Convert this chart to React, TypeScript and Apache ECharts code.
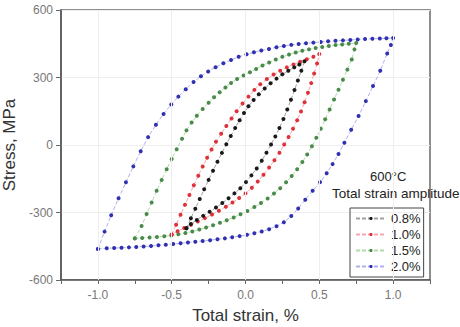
import React, { useEffect, useRef } from "react";
import * as echarts from "echarts";

// Hysteresis loops: [total strain %, stress MPa], in loop order
const loop08: number[][] = [
  [-0.40, -370], [-0.37, -326], [-0.34, -283], [-0.31, -240], [-0.28, -197], [-0.25, -155], [-0.22, -114],
  [-0.19, -74], [-0.16, -35], [-0.13, 3], [-0.10, 40], [-0.07, 76], [-0.04, 110], [-0.01, 142], [0.02, 172],
  [0.055, 200], [0.09, 226], [0.13, 251], [0.17, 274], [0.21, 295], [0.25, 314], [0.29, 330], [0.33, 345],
  [0.365, 358], [0.40, 372],
  [0.378, 330], [0.355, 287], [0.332, 244], [0.308, 201], [0.283, 158], [0.257, 116], [0.23, 76], [0.202, 38],
  [0.173, 2], [0.142, -34], [0.11, -70], [0.076, -104], [0.04, -135], [0.003, -165], [-0.035, -192],
  [-0.075, -215], [-0.115, -237], [-0.157, -258], [-0.2, -278], [-0.243, -297], [-0.287, -315], [-0.33, -333],
  [-0.37, -351], [-0.40, -370],
];

const loop10: number[][] = [
  [-0.50, -398], [-0.47, -354], [-0.44, -310], [-0.41, -266], [-0.38, -222], [-0.35, -179], [-0.32, -137],
  [-0.29, -96], [-0.26, -57], [-0.23, -20], [-0.20, 14], [-0.165, 50], [-0.13, 84], [-0.095, 118], [-0.06, 150],
  [-0.02, 184], [0.02, 215], [0.06, 245], [0.10, 270], [0.145, 293], [0.19, 313], [0.235, 330], [0.28, 345],
  [0.325, 358], [0.37, 370], [0.415, 381], [0.46, 392], [0.50, 404],
  [0.485, 362], [0.465, 318], [0.445, 275], [0.423, 232], [0.40, 190], [0.376, 149], [0.35, 110], [0.322, 72],
  [0.292, 36], [0.262, 2], [0.23, -34], [0.196, -68], [0.16, -100], [0.122, -132], [0.083, -162], [0.043, -190],
  [0.0, -215], [-0.043, -236], [-0.088, -256], [-0.133, -274], [-0.18, -292], [-0.227, -309], [-0.275, -325],
  [-0.323, -340], [-0.37, -355], [-0.415, -369], [-0.46, -383], [-0.50, -398],
];

const loop15: number[][] = [
  [-0.75, -415], [-0.704, -360], [-0.67, -307], [-0.636, -256], [-0.602, -203], [-0.568, -156], [-0.534, -108],
  [-0.50, -62], [-0.466, -19], [-0.43, 28], [-0.40, 65], [-0.365, 100], [-0.33, 130], [-0.29, 160], [-0.25, 188],
  [-0.213, 212], [-0.175, 234], [-0.136, 256], [-0.098, 276], [-0.057, 293], [-0.013, 309], [0.03, 323],
  [0.072, 338], [0.115, 353], [0.16, 367], [0.205, 380], [0.25, 392], [0.295, 402], [0.34, 411], [0.385, 419],
  [0.43, 425], [0.475, 431], [0.52, 436], [0.565, 440], [0.61, 444], [0.655, 447], [0.70, 450], [0.75, 453],
  [0.738, 425], [0.72, 380], [0.69, 335], [0.66, 290], [0.63, 246], [0.60, 202], [0.57, 158], [0.54, 114],
  [0.51, 72], [0.48, 32], [0.45, -6], [0.418, -42], [0.385, -76], [0.35, -108], [0.313, -138], [0.275, -166],
  [0.235, -192], [0.193, -216], [0.15, -238], [0.105, -258], [0.06, -276], [0.013, -293], [-0.034, -308],
  [-0.08, -322], [-0.127, -334], [-0.173, -346], [-0.22, -357], [-0.267, -367], [-0.313, -376], [-0.36, -384],
  [-0.407, -391], [-0.455, -397], [-0.503, -402], [-0.55, -406], [-0.60, -409], [-0.65, -411], [-0.70, -413],
  [-0.75, -415],
];

const loop20: number[][] = [
  [-1.0, -462], [-0.955, -385], [-0.91, -312], [-0.86, -237], [-0.81, -166], [-0.76, -95], [-0.71, -28],
  [-0.66, 35], [-0.607, 90], [-0.555, 138], [-0.503, 180], [-0.455, 215], [-0.405, 248], [-0.352, 280],
  [-0.302, 306], [-0.253, 327], [-0.203, 346], [-0.15, 363], [-0.098, 378], [-0.046, 392], [0.007, 403],
  [0.057, 412], [0.107, 420], [0.159, 427], [0.21, 434], [0.26, 440], [0.31, 445], [0.36, 449], [0.41, 452],
  [0.46, 455], [0.51, 458], [0.56, 461], [0.61, 463], [0.66, 465], [0.71, 467], [0.76, 469], [0.81, 471],
  [0.86, 472], [0.91, 473], [0.955, 474], [1.0, 476],
  [0.985, 444], [0.96, 407], [0.913, 330], [0.864, 262], [0.815, 195], [0.766, 129], [0.716, 68], [0.67, 10],
  [0.63, -40], [0.59, -85], [0.55, -126], [0.505, -165], [0.455, -203], [0.405, -243], [0.357, -282],
  [0.31, -316], [0.26, -343], [0.21, -361], [0.16, -374], [0.11, -384], [0.06, -392], [0.01, -399],
  [-0.04, -405], [-0.09, -410], [-0.14, -415], [-0.19, -419], [-0.24, -423], [-0.29, -427], [-0.34, -430],
  [-0.39, -433], [-0.44, -437], [-0.49, -440], [-0.54, -443], [-0.59, -446], [-0.64, -449], [-0.69, -451],
  [-0.74, -453], [-0.79, -455], [-0.84, -457], [-0.89, -458], [-0.94, -459], [-1.0, -462],
];

const seriesNames = ["0.8%", "1.0%", "1.5%", "2.0%"];
const markerColors = ["#1a1a1a", "#e0303a", "#4a8a4a", "#3030b0"];
const lineColors = ["#a0a0a0", "#f4a8ae", "#b0dca8", "#b0b0f0"];
const xGridValues = [-1.0, -0.5, 0.0, 0.5, 1.0];
const xTickLabels = ["-1.0", "-0.5", "0.0", "0.5", "1.0"];

export default function App() {
  const ref = useRef<HTMLDivElement>(null);
  useEffect(() => {
    if (!ref.current) return;
    const chart = echarts.init(ref.current, undefined, { renderer: "svg" });
    const loops = [loop08, loop10, loop15, loop20];
    const font = "'Liberation Sans', Arial, sans-serif";
    chart.setOption({
      animation: false,
      textStyle: { fontFamily: font },
      grid: {
        left: 61, right: 30, top: 10, bottom: 47,
        outerBoundsMode: "none",
        containLabel: false,
        show: true, borderColor: "#6a6a6a", borderWidth: 1.5, backgroundColor: "transparent",
      },
      legend: {
        data: seriesNames,
        orient: "vertical",
        left: 350, top: 208,
        itemWidth: 30, itemHeight: 4, itemGap: 3,
        padding: [4, 3, 4, 5],
        borderColor: "#444", borderWidth: 1,
        textStyle: { fontSize: 13, color: "#222", fontFamily: font },
      },
      xAxis: {
        type: "value", min: -1.25, max: 1.25, interval: 0.25,
        name: "Total strain, %", nameLocation: "middle", nameGap: 27,
        nameTextStyle: { fontSize: 17, color: "#333", fontFamily: font },
        axisLine: { onZero: false, lineStyle: { color: "#555", width: 1.5 } },
        axisTick: { show: true, length: 4, lineStyle: { color: "#666" } },
        axisLabel: {
          fontSize: 12, color: "#777", margin: 9,
          formatter: (v: number) => {
            const i = xGridValues.findIndex((g) => Math.abs(g - v) < 1e-6);
            return i >= 0 ? xTickLabels[i] : "";
          },
        },
        splitLine: { show: false },
      },
      yAxis: {
        type: "value", min: -600, max: 600, interval: 300,
        name: "Stress, MPa", nameLocation: "middle", nameGap: 33,
        nameTextStyle: { fontSize: 17, color: "#333", fontFamily: font },
        axisLine: { show: true, onZero: false, lineStyle: { color: "#555", width: 1.5 } },
        axisTick: { show: true, length: 5, lineStyle: { color: "#666" } },
        axisMinorTick: { show: true, splitNumber: 2, length: 3, lineStyle: { color: "#888" } },
        axisLabel: { fontSize: 12, color: "#777", margin: 8 },
        splitLine: { show: true, lineStyle: { color: "#eeeeee", width: 1 } },
      },
      series: [
        {
          type: "line", name: "grid", data: [], silent: true, z: 1,
          markLine: {
            silent: true, symbol: "none", label: { show: false },
            lineStyle: { color: "#eeeeee", width: 1, type: "solid" },
            data: xGridValues.map((v) => ({ xAxis: v })),
          },
        },
        ...loops.map((d, i) => ({
          type: "line",
          name: seriesNames[i],
          data: d,
          symbol: "circle",
          symbolSize: 4,
          showSymbol: true,
          z: 2 + (3 - i),
          itemStyle: { color: markerColors[i] },
          lineStyle: { color: lineColors[i], width: 1, type: [4, 2] },
        })),
      ],
      graphic: [
        {
          type: "text", left: 370, top: 170,
          style: { text: "600°C", fontSize: 13, fill: "#222", fontFamily: font },
        },
        {
          type: "text", left: 332, top: 186,
          style: { text: "Total strain amplitude", fontSize: 13.5, fill: "#222", fontFamily: font },
        },
      ],
    });
    return () => chart.dispose();
  }, []);
  return (
    <div
      ref={ref}
      style={{ position: "fixed", left: 0, top: 0, width: 460, height: 327, background: "#fff" }}
    />
  );
}
